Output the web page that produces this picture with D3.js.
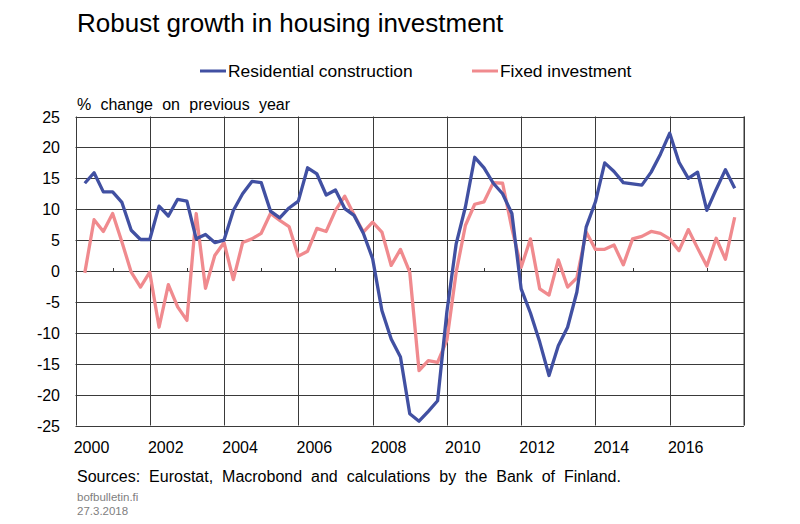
<!DOCTYPE html>
<html>
<head>
<meta charset="utf-8">
<script src="https://cdn.jsdelivr.net/npm/d3@7"></script>
<style>
  body { margin: 0; background: #fff; }
  svg { font-family: "Liberation Sans", Arial, sans-serif; }
</style>
</head>
<body>
<div id="chart"></div>
<script>
// quarterly, 2000Q1 .. 2017Q3, % change on previous year
var startYear = 2000;
var residential = [
  14.2, 15.9, 12.8, 12.8, 11.1, 6.6, 5.1, 5.1, 10.5, 8.9, 11.6, 11.3,
  5.2, 5.9, 4.6, 5.0, 9.8, 12.5, 14.5, 14.3, 9.7, 8.6, 10.2, 11.3,
  16.7, 15.7, 12.3, 13.1, 10.1, 9.0, 6.1, 2.0, -6.4, -11.0, -13.9, -23.1,
  -24.3, -22.7, -21.0, -6.6, 4.4, 10.4, 18.4, 16.7, 14.2, 12.5, 9.3, -2.9,
  -6.8, -11.5, -16.9, -12.1, -9.1, -3.4, 7.1, 11.2, 17.5, 16.1, 14.3, 14.1,
  13.9, 16.0, 18.9, 22.3, 17.6, 15.0, 16.0, 9.8, 13.2, 16.4, 13.4
];
var fixedInv = [
  -0.3, 8.3, 6.4, 9.3, 4.7, -0.2, -2.6, -0.2, -9.1, -2.2, -5.8, -8.0,
  9.3, -2.8, 2.5, 4.6, -1.4, 4.6, 5.2, 6.1, 9.3, 8.2, 7.2, 2.4,
  3.2, 6.9, 6.4, 9.8, 12.1, 9.1, 6.3, 7.9, 6.3, 0.9, 3.5, -0.2,
  -16.1, -14.5, -14.8, -11.2, -0.2, 7.4, 10.8, 11.2, 14.3, 14.2, 6.9, 0.6,
  5.2, -2.9, -3.9, 1.8, -2.6, -1.1, 6.3, 3.5, 3.5, 4.2, 1.0, 5.2,
  5.6, 6.4, 6.1, 5.2, 3.3, 6.7, 3.7, 0.8, 5.3, 1.9, 8.7
];
var seriesNames = ["Residential construction", "Fixed investment"];
var seriesColors = ["#4150a2", "#f08a8e"];
var yTicks = [25, 20, 15, 10, 5, 0, -5, -10, -15, -20, -25];
var yearLabels = [2000, 2002, 2004, 2006, 2008, 2010, 2012, 2014, 2016];

var W = 800, H = 524;
var plotL = 75.5, plotR = 744, plotT = 116.5, plotB = 425.5;

var svg = d3.select("#chart").append("svg").attr("width", W).attr("height", H);

var x = d3.scaleLinear().domain([2000, 2018]).range([plotL, plotR]);
var y = d3.scaleLinear().domain([-25, 25]).range([plotB, plotT]);

// point i sits at the end of its quarter
function t(i) { return startYear + 0.25 * (i + 1); }

// title
svg.append("text").attr("x", 77).attr("y", 32)
    .attr("font-size", 26).attr("fill", "#000")
    .text("Robust growth in housing investment");

// legend
var legendX = [200, 472];
seriesNames.forEach(function (name, k) {
    svg.append("line")
        .attr("x1", legendX[k]).attr("x2", legendX[k] + 26)
        .attr("y1", 71).attr("y2", 71)
        .attr("stroke", seriesColors[k]).attr("stroke-width", 3);
    svg.append("text").attr("x", legendX[k] + 28).attr("y", 77)
        .attr("font-size", 17.4).text(name);
});

svg.append("text").attr("x", 77).attr("y", 110)
    .attr("font-size", 16).attr("word-spacing", 4.8)
    .text("% change on previous year");

// grid
var grid = svg.append("g").attr("stroke", "#3a3a3a").attr("stroke-width", 1);
grid.selectAll("line.h").data(yTicks).enter().append("line")
    .attr("x1", plotL).attr("x2", plotR)
    .attr("y1", function (d) { return Math.round(y(d)) + 0.5; })
    .attr("y2", function (d) { return Math.round(y(d)) + 0.5; });
grid.selectAll("line.v").data(d3.range(2000, 2019, 2)).enter().append("line")
    .attr("x1", function (d) { return Math.round(x(d)) + 0.5; })
    .attr("x2", function (d) { return Math.round(x(d)) + 0.5; })
    .attr("y1", plotT).attr("y2", plotB);
grid.append("line")
    .attr("x1", plotR).attr("x2", plotR).attr("y1", plotT).attr("y2", plotB);

// minor ticks on the zero line
grid.selectAll("line.m").data(d3.range(2001, 2018, 2)).enter().append("line")
    .attr("x1", function (d) { return Math.round(x(d)) + 0.5; })
    .attr("x2", function (d) { return Math.round(x(d)) + 0.5; })
    .attr("y1", Math.round(y(0)) + 0.5).attr("y2", Math.round(y(0)) - 3);

// axis labels
svg.selectAll("text.yl").data(yTicks).enter().append("text")
    .attr("x", 60).attr("y", function (d) { return y(d) + 6; })
    .attr("text-anchor", "end").attr("font-size", 16)
    .text(function (d) { return d; });
svg.selectAll("text.xl").data(yearLabels).enter().append("text")
    .attr("x", function (d) { return x(d) + 16; }).attr("y", 453)
    .attr("text-anchor", "middle").attr("font-size", 16)
    .text(function (d) { return d; });

// series, fixed investment drawn first so the blue line sits on top
var line = d3.line()
    .x(function (d, i) { return x(t(i)); })
    .y(function (d) { return y(d); });
[fixedInv, residential].forEach(function (vals, k) {
    svg.append("path").datum(vals)
        .attr("d", line)
        .attr("fill", "none")
        .attr("stroke", seriesColors[1 - k])
        .attr("stroke-width", 3.3)
        .attr("stroke-linejoin", "round");
});

// footer
svg.append("text").attr("x", 77).attr("y", 482)
    .attr("font-size", 16).attr("word-spacing", 4.5)
    .text("Sources: Eurostat, Macrobond and calculations by the Bank of Finland.");
svg.append("text").attr("x", 77).attr("y", 501)
    .attr("font-size", 11.5).attr("fill", "#808080").text("bofbulletin.fi");
svg.append("text").attr("x", 77).attr("y", 515)
    .attr("font-size", 11.5).attr("fill", "#808080").text("27.3.2018");
</script>
</body>
</html>
